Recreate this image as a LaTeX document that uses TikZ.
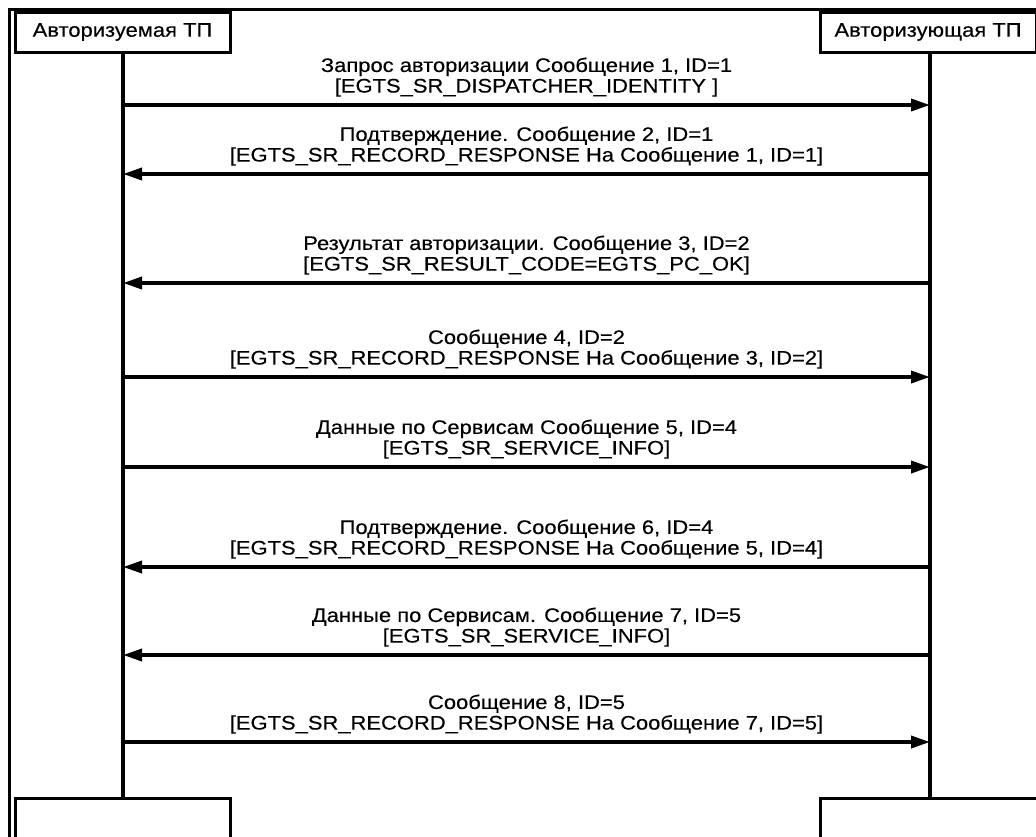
\documentclass[tikz,border=0pt]{standalone}
\usepackage{fontspec}
\usepackage{graphicx}
\setmainfont{Liberation Sans}
\newfontfamily\heavyfont{Liberation Sans}[FakeBold=0.25]
\usetikzlibrary{arrows.meta}
\newcommand{\stretchtxt}[1]{\scalebox{1.12}[1]{#1}}
\tikzset{
  unit/.style={x=0.5pt,y=-0.5pt},
  actor/.style={draw,line width=1.5pt,minimum width=107.5pt,minimum height=20pt,inner sep=0pt,font=\heavyfont\fontsize{9.8}{9.5}\selectfont},
  endbox/.style={draw,line width=1.5pt,minimum width=107.5pt,minimum height=40pt,inner sep=0pt,anchor=north},
  life/.style={line width=2pt},
  msg/.style={line width=1.8pt,-{Triangle[length=9.5pt,width=6pt]}},
  lbl/.style={anchor=south,inner sep=0pt,align=center,font=\heavyfont\fontsize{9.8}{10.3}\selectfont},
  frame/.style={line width=1.5pt}
}
\begin{document}
\begin{tikzpicture}[unit]
\useasboundingbox (0,0) rectangle (1036,836);
\clip (0,0) rectangle (1036,836);
\draw[frame] (9,900) -- (9,9) -- (1036,9);
\node[actor] (tl) at (122.5,32) {\stretchtxt{Авторизуемая ТП}};
\node[actor,minimum width=108pt] (tr) at (928,32) {\stretchtxt{Авторизующая ТП}};
\node[endbox] (bl) at (122.5,797) {};
\node[endbox,minimum width=110pt] (br) at (930,797) {};
\coordinate (Ltop) at (123,52);
\coordinate (Rtop) at (930,52);
\coordinate (Lbot) at (123,797);
\coordinate (Rbot) at (930,797);
\draw[life] (Ltop) -- (Lbot);
\draw[life] (Rtop) -- (Rbot);
\foreach \i/\y in {1/105,2/174,3/283,4/377,5/467,6/567,7/655,8/742}{
  \coordinate (L\i) at (123,\y);
  \coordinate (R\i) at (930,\y);
}
\draw[msg] (L1) -- (R1);
\draw[msg] (R2) -- (L2);
\draw[msg] (R3) -- (L3);
\draw[msg] (L4) -- (R4);
\draw[msg] (L5) -- (R5);
\draw[msg] (R6) -- (L6);
\draw[msg] (R7) -- (L7);
\draw[msg] (L8) -- (R8);
\node[lbl] (t1) at (526.5,97) {\stretchtxt{Запрос авторизации Сообщение 1, ID=1}\\\stretchtxt{[EGTS\_SR\_DISPATCHER\_IDENTITY ]}};
\node[lbl] (t2) at (526.5,166) {\stretchtxt{Подтверждение. Сообщение 2, ID=1}\\\stretchtxt{[EGTS\_SR\_RECORD\_RESPONSE На Сообщение 1, ID=1]}};
\node[lbl] (t3) at (526.5,275) {\stretchtxt{Результат авторизации. Сообщение 3, ID=2}\\\stretchtxt{[EGTS\_SR\_RESULT\_CODE=EGTS\_PC\_OK]}};
\node[lbl] (t4) at (526.5,369) {\stretchtxt{Сообщение 4, ID=2}\\\stretchtxt{[EGTS\_SR\_RECORD\_RESPONSE На Сообщение 3, ID=2]}};
\node[lbl] (t5) at (526.5,459) {\stretchtxt{Данные по Сервисам Сообщение 5, ID=4}\\\stretchtxt{[EGTS\_SR\_SERVICE\_INFO]}};
\node[lbl] (t6) at (526.5,559) {\stretchtxt{Подтверждение. Сообщение 6, ID=4}\\\stretchtxt{[EGTS\_SR\_RECORD\_RESPONSE На Сообщение 5, ID=4]}};
\node[lbl] (t7) at (526.5,647) {\stretchtxt{Данные по Сервисам. Сообщение 7, ID=5}\\\stretchtxt{[EGTS\_SR\_SERVICE\_INFO]}};
\node[lbl] (t8) at (526.5,734) {\stretchtxt{Сообщение 8, ID=5}\\\stretchtxt{[EGTS\_SR\_RECORD\_RESPONSE На Сообщение 7, ID=5]}};
\end{tikzpicture}
\end{document}
